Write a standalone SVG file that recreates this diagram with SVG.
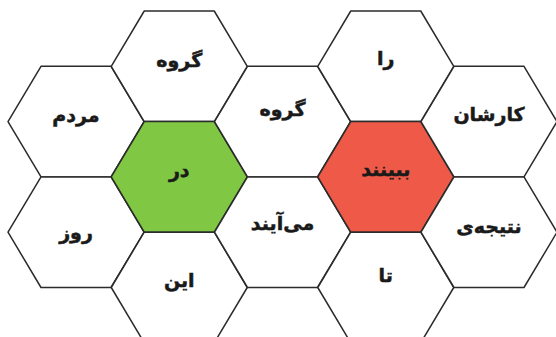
<svg xmlns="http://www.w3.org/2000/svg" width="556" height="337" viewBox="0 0 556 337">
<style>
.hex{fill:#fff;stroke:#2b2b2b;stroke-width:1.5;stroke-linejoin:round}
.green{fill:#80c844}
.red{fill:#ef5a48}
text{font-family:"DejaVu Sans",sans-serif;font-weight:bold;font-size:19px;fill:#1a1a1a;stroke:#1a1a1a;stroke-width:0.5;text-anchor:middle}
</style>
<defs>
<polygon id="h" points="-68,0 -35,-55.3 35,-55.3 68,0 35,55.3 -35,55.3"/>
</defs>
<rect width="556" height="337" fill="#fff"/>
<g id="n-mardom"><use href="#h" class="hex" x="76" y="121.6"/><text x="76" y="122">مردم</text></g>
<g id="n-ruz"><use href="#h" class="hex" x="76" y="232.2"/><text x="76" y="239">روز</text></g>
<g id="n-gorooh1"><use href="#h" class="hex" x="179.25" y="66.3"/><text x="179.25" y="67">گروه</text></g>
<g id="n-dar"><use href="#h" class="hex green" x="179.25" y="176.9"/><text x="179.25" y="177">در</text></g>
<g id="n-in"><use href="#h" class="hex" x="179.25" y="287.5"/><text x="179.25" y="287">این</text></g>
<g id="n-gorooh2"><use href="#h" class="hex" x="282.5" y="121.6"/><text x="282.5" y="116">گروه</text></g>
<g id="n-miayand"><use href="#h" class="hex" x="282.5" y="232.2"/><text x="282.5" y="230">می‌آیند</text></g>
<g id="n-ra"><use href="#h" class="hex" x="385.75" y="66.3"/><text x="385.75" y="65">را</text></g>
<g id="n-binand"><use href="#h" class="hex red" x="385.75" y="176.9"/><text x="385.75" y="176">ببینند</text></g>
<g id="n-ta"><use href="#h" class="hex" x="385.75" y="287.5"/><text x="385.75" y="282">تا</text></g>
<g id="n-karshan"><use href="#h" class="hex" x="489" y="121.6"/><text x="489" y="121">کارشان</text></g>
<g id="n-natije"><use href="#h" class="hex" x="489" y="232.2"/><text x="489" y="233">نتیجه‌ی</text></g>
<g id="connectors"></g>
</svg>
